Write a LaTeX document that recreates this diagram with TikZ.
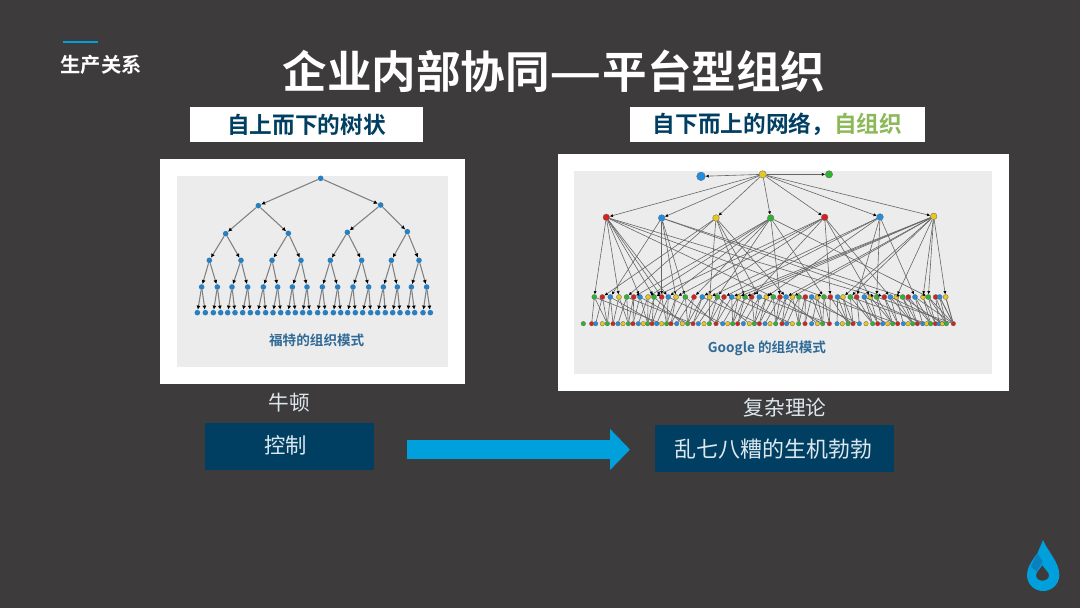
\documentclass[tikz,border=0pt]{standalone}
\usepackage{fontspec}
\usepackage{graphicx}
\setmainfont{Noto Sans CJK SC}[BoldFont={* Bold}]
\usetikzlibrary{arrows.meta}
\definecolor{bgc}{HTML}{3D3B3C}
\definecolor{navy}{HTML}{003F62}
\definecolor{sky}{HTML}{00A0DC}
\definecolor{skyd}{HTML}{0B80BE}
\definecolor{leaf}{HTML}{8DB85A}
\definecolor{panel}{HTML}{ECECEC}
\definecolor{capt}{HTML}{2F6A96}
\definecolor{dot0}{HTML}{2DB52D}
\definecolor{dot1}{HTML}{D8201F}
\definecolor{dot2}{HTML}{1E8FE0}
\definecolor{dot3}{HTML}{E8C81E}
\definecolor{treeb}{HTML}{2A7FBF}
\definecolor{lightt}{HTML}{DCE8EE}
\newcommand{\fs}[1]{\fontsize{#1}{#1}\selectfont}
\tikzset{
  x=0.75pt,y=-0.75pt,
  whitepanel/.style={fill=white,draw=none},
  greypanel/.style={fill=panel,draw=none},
  headbox/.style={fill=white,minimum height=26.25pt,inner sep=0pt,text=navy,font=\fs{17}\bfseries},
  navybox/.style={fill=navy,minimum width=#1,minimum height=35.25pt,inner sep=0pt},
  navytext/.style={text=lightt,font=\fs{#1},inner sep=0pt},
  treedot/.style={circle,fill=treeb,inner sep=0pt,minimum size=4.2pt},
  gdot/.style={circle,draw=black!60,line width=.25pt,inner sep=0pt,minimum size=#1},
  treeedge/.style={draw=black!50,line width=.8pt,-{Latex[length=3pt,width=3pt,black]}},
  gedge/.style={draw=black!60,line width=.45pt,-{Latex[length=2.4pt,width=2.4pt,black]}},
  hedge/.style={draw=black!60,line width=.45pt},
  plainlabel/.style={text=lightt,font=\fs{15.5},inner sep=0pt},
}
\begin{document}
\begin{tikzpicture}
\useasboundingbox (0,0) rectangle (1080,608);
\fill[bgc] (0,0) rectangle (1080,608);
% header
\draw[sky,line width=1.5pt] (63,42) -- (98,42);
\node[text=white,font=\fs{15.2}\bfseries,inner sep=0pt] (section) at (101,65) {生产关系};
\node[text=white,font=\fs{33.4}\bfseries,inner sep=0pt] (title) at (554,71) {企业内部协同\scalebox{1.3}[1]{—}平台型组织};
\node[headbox,minimum width=174.75pt] (headL) at (306.5,124.5) {自上而下的树状};
\node[headbox,minimum width=221.25pt] (headR) at (777.5,124.5) {自下而上的网络，\textcolor{leaf}{自组织}};
% left panel
\fill[whitepanel] (160,159) rectangle (465,384);
\fill[greypanel] (176.7,175.7) rectangle (447.7,366.7);
\foreach \x [count=\i] in {482} \node[treedot] (a\i) at ({160+\x/3},{155+70/3}) {};
\foreach \x/\y [count=\i] in {295/152,662/150} \node[treedot] (b\i) at ({160+\x/3},{155+\y/3}) {};
\foreach \x/\y [count=\i] in {197/236,385/235,562/232,742/230} \node[treedot] (c\i) at ({160+\x/3},{155+\y/3}) {};
\foreach \x [count=\i] in {148,243,336,423,511,605,694,777} \node[treedot] (d\i) at ({160+\x/3},{155+316/3}) {};
\foreach \x [count=\i] in {125,172,216,263,310,353,397,441,487,533,579,626,670,712,754,800} \node[treedot] (e\i) at ({160+\x/3},{155+396/3}) {};
\foreach \x [count=\i] in {112,136,160,182,203,225,248,271,293,317,339,362,384,406,428,449,473,496,520,542,563,586,608,632,653,676,698,720,743,764,789,811} \node[treedot] (f\i) at ({160+\x/3},{155+473/3}) {};
\foreach \i in {1,2} \draw[treeedge] (a1) -- (b\i);
\foreach \i in {1,...,4} {\pgfmathtruncatemacro\p{(\i+1)/2}\draw[treeedge] (b\p) -- (c\i);}
\foreach \i in {1,...,8} {\pgfmathtruncatemacro\p{(\i+1)/2}\draw[treeedge] (c\p) -- (d\i);}
\foreach \i in {1,...,16} {\pgfmathtruncatemacro\p{(\i+1)/2}\draw[treeedge] (d\p) -- (e\i);}
\foreach \i in {1,...,32} {\pgfmathtruncatemacro\p{(\i+1)/2}\draw[treeedge] (e\p) -- (f\i);}
\node[text=capt,font=\fs{10.2}\bfseries,inner sep=0pt] (captL) at (316.7,340) {福特的组织模式};
% right panel
\fill[whitepanel] (557.7,154) rectangle (1009,391);
\fill[greypanel] (574.3,170.7) rectangle (992,374.3);
\node[gdot=5.5pt,fill=dot3] (top) at ({555+623/3},{150+73/3}) {};
\node[gdot=6.5pt,fill=dot2] (topL) at ({555+438/3},{150+79/3}) {};
\node[gdot=5.5pt,fill=dot0] (topR) at ({555+822/3},{150+73/3}) {};
\foreach \x/\y/\c [count=\i] in {154/202/1,320/204/2,483/204/3,647/204/0,809/202/1,975/201/2,1136/199/3}
  \node[gdot=5pt,fill=dot\c] (p\i) at ({555+\x/3},{150+\y/3}) {};
\foreach \x [count=\i] in {118,142,166,192,215,236,255,279,297,320,340,363,391,417,442,464,487,507,530,550,570,590,613,634,655,675,693,712,732,751,770,788,807,826,848,864,886,905,928,946,965,988,1006,1024,1043,1060,1080,1104,1120,1142,1154,1172}
  {\pgfmathtruncatemacro\c{mod(\i-1,4)}\node[gdot=3.8pt,fill=dot\c] (q\i) at ({555+\x/3},{150+441/3}) {};}
\foreach \x [count=\i] in {85,110,122,142,157,174,189,204,220,234,250,265,278,291,305,320,335,348,365,382,398,414,430,447,463,483,503,518,533,548,565,583,598,613,630,645,662,681,695,712,731,750,770,787,803,823,846,862,879,894,913,933,953,968,983,998,1013,1028,1045,1059,1073,1087,1103,1115,1127,1141,1152,1162,1174,1195}
  {\pgfmathtruncatemacro\c{mod(\i-1,4)}\node[gdot=3.4pt,fill=dot\c] (s\i) at ({555+\x/3},{150+521/3}) {};}
\draw[gedge] (top) -- (topL);
\draw[gedge] (top) -- (topR);
\foreach \i in {1,...,7} \draw[gedge] (top) -- (p\i);
\foreach \p/\list in {
  1/{1,4,7,9,10,11,25,33,41},
  2/{3,10,12,13,42,45},
  3/{2,5,16,21,23,27},
  4/{6,8,11,14,17,26,33,49},
  5/{9,12,15,22,34,40,43},
  6/{16,18,24,38,41,47},
  7/{19,20,21,27,28,36,37,44,48,49,52}}
  {\foreach \q in \list \draw[gedge] (p\p) -- (q\q);}
\foreach \i in {1,...,52} {
  \pgfmathtruncatemacro\a{max(1,min(70,round((\i-1)*1.33)+2))}
  \pgfmathtruncatemacro\b{max(1,min(70,\a+1+mod(\i*5,3)))}
  \pgfmathtruncatemacro\d{min(70,\a+7+mod(\i*7,9))}
  \draw[hedge] (q\i) -- (s\a);
  \draw[hedge] (q\i) -- (s\b);
  \ifodd\i\draw[hedge] (q\i) -- (s\d);\fi
}
\node[text=capt,font=\fs{10.2}\bfseries,inner sep=0pt] (captR) at (767,348) {Google 的组织模式};
% bottom
\node[plainlabel] (newton) at (289.5,403) {牛顿};
\node[plainlabel] (complex) at (785,408) {复杂理论};
\node[navybox=126.75pt] (ctrl) at (289.5,446.5) {};
\node[navytext=16] (ctrlT) at (285.5,445) {控制};
\node[navybox=179.25pt] (chaos) at (774.5,448.5) {};
\node[navytext=16.5] (chaosT) at (773,449) {乱七八糟的生机勃勃};
\coordinate (arrS) at (407,449.5);
\coordinate (arrE) at (630,449.5);
\draw[sky,line width=14.25pt,-{Triangle[length=15pt,width=30pt]}] (arrS) -- (arrE);
% logo
\fill[sky,even odd rule] (1043,540) .. controls (1048,552) and (1059.3,562) .. (1059.3,575)
  .. controls (1059.3,584) and (1052,591) .. (1043.2,591)
  .. controls (1034,591) and (1027,584) .. (1027,575)
  .. controls (1027,569) and (1030,563) .. (1037.5,553) -- cycle
  (1042.3,565) .. controls (1044.5,569) and (1049,572) .. (1049,575.5)
  .. controls (1049,578.5) and (1046,580.7) .. (1042.5,580.7)
  .. controls (1039,580.7) and (1036,578.5) .. (1036,575.5)
  .. controls (1036,572) and (1040,569) .. (1042.3,565) -- cycle;
\fill[skyd] (1037.3,553.3) -- (1030.7,566.7) -- (1036.7,571.7) -- (1042.7,561.7) -- cycle;
\end{tikzpicture}
\end{document}
